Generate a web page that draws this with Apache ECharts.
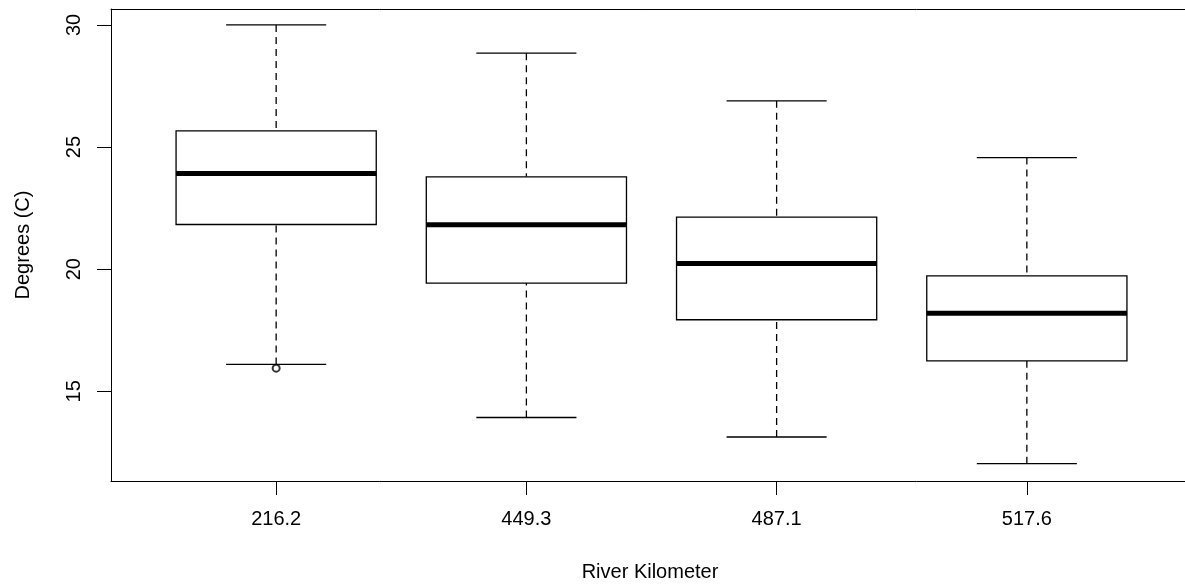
<!DOCTYPE html>
<html>
<head>
<meta charset="utf-8">
<script src="https://cdn.jsdelivr.net/npm/echarts@6/dist/echarts.min.js"></script>
<style>
html,body{margin:0;padding:0;background:#fff;}
#chart{width:1185px;height:587px;}
</style>
</head>
<body>
<div id="chart"></div>
<script>
// ---- data ----
const categories = ['216.2', '449.3', '487.1', '517.6'];
const lowerWhisker = [16.10, 13.93, 13.13, 12.04];
const q1 = [21.83, 19.43, 17.93, 16.25];
const median = [23.92, 21.82, 20.23, 18.20];
const q3 = [25.66, 23.78, 22.13, 19.73];
const upperWhisker = [30.00, 28.84, 26.89, 24.57];
const outlierGroup = [1];
const outlierValue = [15.95];
const yTicks = [15, 20, 25, 30];
const xTitle = 'River Kilometer';
const yTitle = 'Degrees (C)';

// build series data (group position = 1..n)
const boxData = categories.map((c, i) => [i + 1, lowerWhisker[i], q1[i], median[i], q3[i], upperWhisker[i]]);
const outlierData = outlierGroup.map((g, i) => [g, outlierValue[i]]);
const xPositions = categories.map((c, i) => i + 1);

const FONT = 'Liberation Sans, Arial, sans-serif';
const FS = 20;

function renderBox(params, api) {
  const x = api.value(0);
  const lo = api.coord([x, api.value(1)]);
  const a = api.coord([x, api.value(2)]);
  const m = api.coord([x, api.value(3)]);
  const b = api.coord([x, api.value(4)]);
  const hi = api.coord([x, api.value(5)]);
  const bw = api.size([0.8, 0])[0];
  const cw = bw / 2;
  const cx = m[0];
  const lw = 1.3;
  return {
    type: 'group',
    children: [
      { type: 'line', shape: { x1: cx, y1: hi[1], x2: cx, y2: b[1] },
        style: { stroke: '#000', lineWidth: lw, lineDash: [7, 5] } },
      { type: 'line', shape: { x1: cx, y1: lo[1], x2: cx, y2: a[1] },
        style: { stroke: '#000', lineWidth: lw, lineDash: [7, 5] } },
      { type: 'line', shape: { x1: cx - cw / 2, y1: hi[1], x2: cx + cw / 2, y2: hi[1] },
        style: { stroke: '#000', lineWidth: lw } },
      { type: 'line', shape: { x1: cx - cw / 2, y1: lo[1], x2: cx + cw / 2, y2: lo[1] },
        style: { stroke: '#000', lineWidth: lw } },
      { type: 'rect', shape: { x: cx - bw / 2, y: b[1], width: bw, height: a[1] - b[1] },
        style: { fill: '#fff', stroke: '#000', lineWidth: lw } },
      { type: 'line', shape: { x1: cx - bw / 2, y1: m[1], x2: cx + bw / 2, y2: m[1] },
        style: { stroke: '#000', lineWidth: 5 } }
    ]
  };
}

const chart = echarts.init(document.getElementById('chart'), null, { renderer: 'canvas' });
chart.setOption({
  animation: false,
  backgroundColor: '#fff',
  textStyle: { fontFamily: FONT },
  grid: {
    left: 111, top: 9, right: 0, bottom: 105.5,
    show: false
  },
  xAxis: [{
    type: 'value', min: 0.34, max: 4.632,
    splitLine: { show: false },
    axisLine: { show: true, onZero: false, lineStyle: { color: '#000', width: 1 } },
    axisTick: { show: true, customValues: xPositions, length: 14, lineStyle: { color: '#000', width: 1 } },
    axisLabel: {
      customValues: xPositions, margin: 28, color: '#000', fontSize: FS, fontFamily: FONT,
      formatter: v => categories[Math.round(v) - 1] || ''
    },
    name: xTitle, nameLocation: 'middle', nameGap: 81,
    nameTextStyle: { color: '#000', fontSize: FS, fontFamily: FONT, padding: [0, 0, 0, 4] }
  }, {
    type: 'value', position: 'top', min: 0.34, max: 4.632,
    splitLine: { show: false },
    axisLine: { show: true, onZero: false, lineStyle: { color: '#000', width: 1 } },
    axisTick: { show: false },
    axisLabel: { show: false }
  }],
  yAxis: {
    type: 'value', min: 11.33, max: 30.65,
    splitLine: { show: false },
    axisLine: { show: true, onZero: false, lineStyle: { color: '#000', width: 1 } },
    axisTick: { show: true, customValues: yTicks, length: 14, lineStyle: { color: '#000', width: 1 } },
    axisLabel: {
      customValues: yTicks, rotate: 90, margin: 27, color: '#000', fontSize: FS, fontFamily: FONT,
      formatter: v => String(v)
    },
    name: yTitle, nameLocation: 'middle', nameGap: 78, nameRotate: 90,
    nameTextStyle: { color: '#000', fontSize: FS, fontFamily: FONT }
  },
  series: [
    {
      type: 'custom',
      renderItem: renderBox,
      data: boxData,
      encode: { x: 0, y: [1, 2, 3, 4, 5] },
      clip: false
    },
    {
      type: 'scatter',
      data: outlierData,
      symbol: 'emptyCircle',
      symbolSize: 7,
      itemStyle: { color: '#000', borderColor: '#000', borderWidth: 1.2 },
      z: 5
    }
  ]
});
</script>
</body>
</html>
